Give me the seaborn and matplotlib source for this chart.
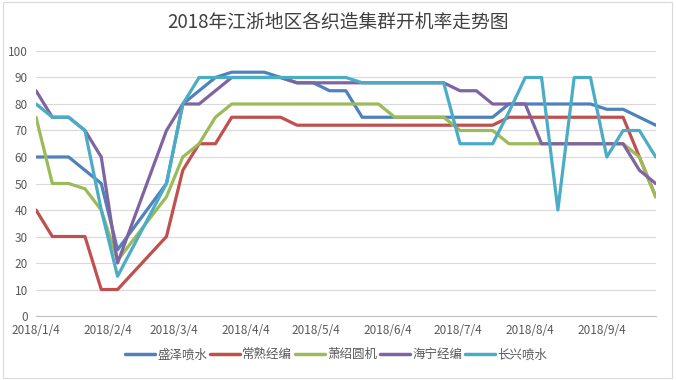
import pandas as pd
import matplotlib.pyplot as plt
from matplotlib.patches import Rectangle
import seaborn as sns

# 数据（每周，春节期间 2/15、2/22 无数据）
dates = ['2018-01-04', '2018-01-11', '2018-01-18', '2018-01-25', '2018-02-01', '2018-02-08',
         '2018-03-01', '2018-03-08', '2018-03-15', '2018-03-22', '2018-03-29', '2018-04-05',
         '2018-04-12', '2018-04-19', '2018-04-26', '2018-05-03', '2018-05-10', '2018-05-17',
         '2018-05-24', '2018-05-31', '2018-06-07', '2018-06-14', '2018-06-21', '2018-06-28',
         '2018-07-05', '2018-07-12', '2018-07-19', '2018-07-26', '2018-08-02', '2018-08-09',
         '2018-08-16', '2018-08-23', '2018-08-30', '2018-09-06', '2018-09-13', '2018-09-20',
         '2018-09-27']

shengze = [60, 60, 60, 55, 50, 25, 50, 80, 85, 90, 92, 92, 92, 90, 88, 88, 85, 85, 75,
           75, 75, 75, 75, 75, 75, 75, 75, 80, 80, 80, 80, 80, 80, 78, 78, 75, 72]
changshu = [40, 30, 30, 30, 10, 10, 30, 55, 65, 65, 75, 75, 75, 75, 72, 72, 72, 72, 72,
            72, 72, 72, 72, 72, 72, 72, 72, 75, 75, 75, 75, 75, 75, 75, 75, 60, 45]
xiaoshao = [75, 50, 50, 48, 40, 21, 45, 60, 65, 75, 80, 80, 80, 80, 80, 80, 80, 80, 80,
            80, 75, 75, 75, 75, 70, 70, 70, 65, 65, 65, 65, 65, 65, 65, 65, 60, 45]
haining = [85, 75, 75, 70, 60, 20, 70, 80, 80, 85, 90, 90, 90, 90, 88, 88, 88, 88, 88,
           88, 88, 88, 88, 88, 85, 85, 80, 80, 80, 65, 65, 65, 65, 65, 65, 55, 50]
changxing = [80, 75, 75, 70, 40, 15, 50, 80, 90, 90, 90, 90, 90, 90, 90, 90, 90, 90, 88,
             88, 88, 88, 88, 88, 65, 65, 65, 77, 90, 90, 40, 90, 90, 60, 70, 70, 60]

regions = ['盛泽喷水', '常熟经编', '萧绍圆机', '海宁经编', '长兴喷水']
series = [shengze, changshu, xiaoshao, haining, changxing]
colors = ['#4F81BD', '#C0504D', '#9BBB59', '#8064A2', '#4BACC6']

tick_dates = ['2018-01-04', '2018-02-04', '2018-03-04', '2018-04-04', '2018-05-04',
              '2018-06-04', '2018-07-04', '2018-08-04', '2018-09-04']
tick_labels = ['2018/1/4', '2018/2/4', '2018/3/4', '2018/4/4', '2018/5/4',
               '2018/6/4', '2018/7/4', '2018/8/4', '2018/9/4']

title = '2018年江浙地区各织造集群开机率走势图'

# 长表
frames = []
for name, vals in zip(regions, series):
    frames.append(pd.DataFrame({'date': pd.to_datetime(dates), 'rate': vals, 'region': name}))
df = pd.concat(frames, ignore_index=True)

sns.set_style('white')
plt.rcParams['font.family'] = ['Noto Sans CJK SC', 'DejaVu Sans']

fig = plt.figure(figsize=(6.76, 3.8), dpi=100)
ax = fig.add_axes([0.0533, 0.1684, 0.9167, 0.6974])

sns.lineplot(data=df, x='date', y='rate', hue='region', hue_order=regions,
             palette=colors, linewidth=2.3, ax=ax)

ax.set_xlim(pd.Timestamp(dates[0]), pd.Timestamp(dates[-1]))
ax.set_ylim(0, 100)
ax.set_yticks(range(0, 101, 10))
ax.set_xticks(pd.to_datetime(tick_dates))
ax.set_xticklabels(tick_labels)
ax.set_xlabel('')
ax.set_ylabel('')

ax.yaxis.grid(True, color='#D9D9D9', linewidth=0.8)
ax.xaxis.grid(False)
ax.set_axisbelow(True)
for s in ['left', 'top', 'right']:
    ax.spines[s].set_visible(False)
ax.spines['bottom'].set_color('#BFBFBF')
ax.tick_params(axis='x', length=4, color='#BFBFBF', labelsize=8.5, labelcolor='#595959', pad=2)
ax.tick_params(axis='y', length=0, labelsize=8.5, labelcolor='#595959', pad=6)

sns.move_legend(ax, 'center', bbox_to_anchor=(0.497, 0.066), bbox_transform=fig.transFigure,
                ncol=5, frameon=False, title=None, fontsize=9, handlelength=2.4,
                handletextpad=0.2, columnspacing=0.2)
for line in ax.get_legend().get_lines():
    line.set_linewidth(2.5)
for t in ax.get_legend().get_texts():
    t.set_color('#595959')

fig.text(0.5, 0.942, title, ha='center', va='center', fontsize=13.5, color='#404040')
fig.patches.append(Rectangle((0.004, 0.005), 0.99, 0.99, transform=fig.transFigure,
                             fill=False, edgecolor='#D9D9D9', linewidth=0.8))

plt.savefig('out.png', dpi=100)
plt.close()
